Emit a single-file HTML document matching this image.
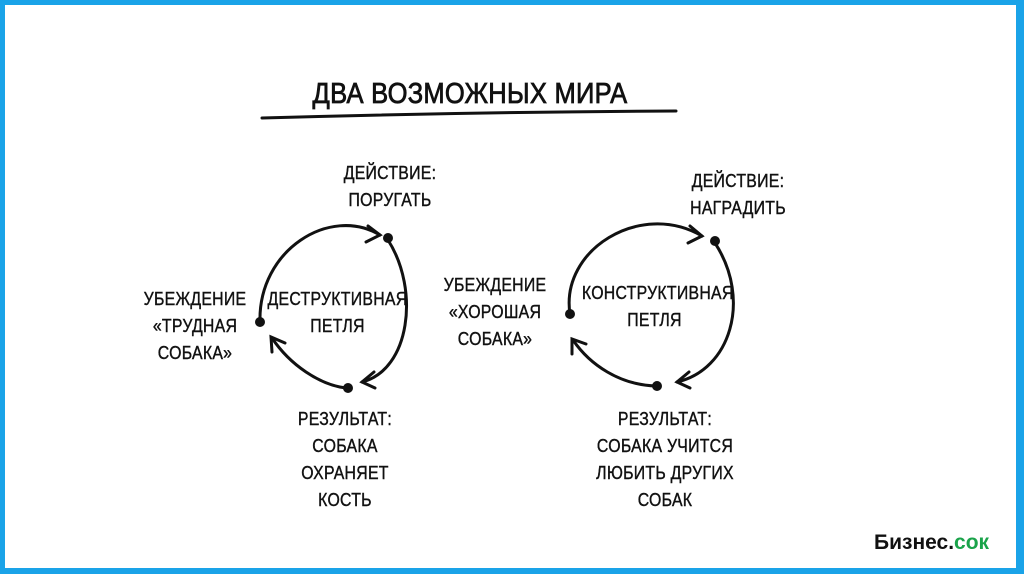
<!DOCTYPE html>
<html><head><meta charset="utf-8"><style>
html,body{margin:0;padding:0}
body{width:1024px;height:574px;position:relative;background:#fff;overflow:hidden;font-family:"Liberation Sans",sans-serif}
.frame{position:absolute;left:0;top:0;width:1024px;height:574px;box-sizing:border-box;border:solid #1aa3e8;border-width:5px 8px 6px 5px}
.t{position:absolute;text-align:center;color:#111;font-size:18px;line-height:27px;letter-spacing:0.3px;transform:scaleX(0.88);-webkit-text-stroke:0.4px #111}
</style></head><body>
<div class="frame"></div>
<svg width="1024" height="574" style="position:absolute;left:0;top:0" fill="none" stroke="#111" stroke-width="3" stroke-linecap="round">
<path d="M262 118 Q470 112 676 111"/>
<path d="M260 322 C258 250 330 205 380 235"/>
<path d="M368 226 L380 235 L366 242"/>
<path d="M388 240 C420 290 410 370 362 382"/>
<path d="M374 372 L362 382 L375 388"/>
<path d="M346 388 C320 385 290 365 272 338"/>
<path d="M272 352 L271 337 L285 343"/>
<path d="M570 314 C560 250 640 200 702 236"/>
<path d="M690 226 L702 236 L688 243"/>
<path d="M715 243 C752 300 730 370 677 382"/>
<path d="M689 372 L677 382 L690 388"/>
<path d="M656 386 C620 385 590 365 573 340"/>
<path d="M572 354 L572 339 L586 344"/>
</svg>
<svg width="1024" height="574" style="position:absolute;left:0;top:0" fill="#111">
<circle cx="388" cy="238" r="5"/><circle cx="260" cy="322" r="5"/><circle cx="348" cy="388" r="5"/>
<circle cx="715" cy="241" r="5"/><circle cx="570" cy="314" r="5"/><circle cx="657" cy="386" r="5"/>
</svg>
<div class="t" style="left:290px;top:76px;width:360px;font-size:29px;line-height:36px;-webkit-text-stroke:0.8px #111">ДВА ВОЗМОЖНЫХ МИРА</div>
<div class="t" style="left:320px;top:160px;width:140px">ДЕЙСТВИЕ:<br>ПОРУГАТЬ</div>
<div class="t" style="left:130px;top:286px;width:130px">УБЕЖДЕНИЕ<br>«ТРУДНАЯ<br>СОБАКА»</div>
<div class="t" style="left:255px;top:286px;width:165px">ДЕСТРУКТИВНАЯ<br>ПЕТЛЯ</div>
<div class="t" style="left:270px;top:406px;width:150px">РЕЗУЛЬТАТ:<br>СОБАКА<br>ОХРАНЯЕТ<br>КОСТЬ</div>
<div class="t" style="left:668px;top:168px;width:140px">ДЕЙСТВИЕ:<br>НАГРАДИТЬ</div>
<div class="t" style="left:430px;top:272px;width:130px">УБЕЖДЕНИЕ<br>«ХОРОШАЯ<br>СОБАКА»</div>
<div class="t" style="left:572px;top:280px;width:165px">КОНСТРУКТИВНАЯ<br>ПЕТЛЯ</div>
<div class="t" style="left:575px;top:406px;width:180px">РЕЗУЛЬТАТ:<br>СОБАКА УЧИТСЯ<br>ЛЮБИТЬ ДРУГИХ<br>СОБАК</div>
<div style="position:absolute;left:874px;top:531px;font-size:21px;font-weight:bold;color:#111">Бизнес.<span style="color:#1aa34a">сок</span></div>
</body></html>
